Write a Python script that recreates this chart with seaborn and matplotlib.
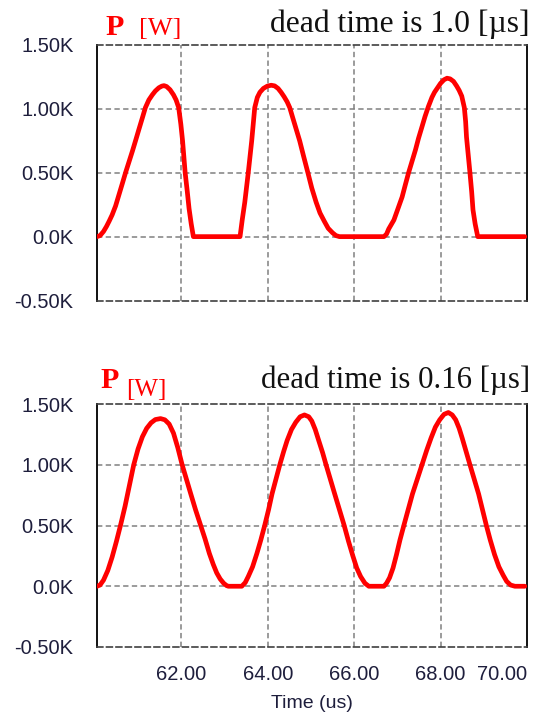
import matplotlib
matplotlib.use("Agg")
import matplotlib.pyplot as plt
import seaborn as sns
import pandas as pd

# ---------------- data ----------------
top_t = [60.05, 60.12, 60.20, 60.27, 60.33, 60.40, 60.48, 60.56, 60.64, 60.71, 60.79, 60.87,
         60.95, 61.02, 61.10, 61.17, 61.25, 61.33, 61.40, 61.48, 61.55, 61.60, 61.66, 61.74,
         61.82, 61.88, 61.94, 61.99, 62.03, 62.09, 62.14, 62.18, 62.23, 62.28,
         63.36, 63.41, 63.47, 63.55, 63.63, 63.70, 63.76, 63.82, 63.90, 63.99, 64.08, 64.16,
         64.24, 64.31, 64.38, 64.45, 64.51, 64.58, 64.66, 64.74, 64.83, 64.93, 65.02, 65.12,
         65.21, 65.31, 65.40, 65.50, 65.58, 65.66,
         66.69, 66.75, 66.80, 66.86, 66.92, 67.01, 67.11, 67.18, 67.26, 67.34, 67.42, 67.49,
         67.57, 67.64, 67.72, 67.80, 67.86, 67.92, 68.00, 68.08, 68.15, 68.22, 68.30, 68.37,
         68.43, 68.49, 68.55, 68.58, 68.60, 68.64, 68.68, 68.72, 68.75, 68.80, 68.86, 69.95]
top_p = [0, 8, 40, 80, 120, 170, 240, 330, 420, 500, 585, 670,
         760, 840, 930, 1010, 1070, 1110, 1140, 1165, 1178, 1182, 1175, 1150,
         1110, 1070, 1010, 880, 750, 500, 350, 220, 100, 0,
         0, 130, 270, 500, 750, 1010, 1090, 1130, 1160, 1178, 1185, 1180,
         1160, 1130, 1095, 1055, 1010, 930, 840, 750, 630, 500, 380, 270,
         185, 120, 65, 30, 8, 0,
         0, 20, 60, 95, 130, 215, 310, 400, 500, 590, 680, 770,
         860, 940, 1020, 1090, 1130, 1160, 1200, 1228, 1240, 1235, 1215, 1180,
         1145, 1100, 1010, 900, 780, 640, 500, 350, 210, 100, 0, 0]

bot_t = [60.05, 60.12, 60.20, 60.30, 60.40, 60.50, 60.60, 60.70, 60.80, 60.90, 61.00, 61.10,
         61.20, 61.30, 61.40, 61.52, 61.62, 61.72, 61.82, 61.92, 62.02, 62.12, 62.22, 62.33,
         62.44, 62.55, 62.65, 62.74, 62.82, 62.90, 62.98, 63.05, 63.09,
         63.40, 63.48, 63.55, 63.65, 63.75, 63.84, 63.93, 64.02, 64.10, 64.19, 64.28, 64.37,
         64.45, 64.55, 64.65, 64.75, 64.85, 64.95, 65.02, 65.10, 65.18, 65.27, 65.35, 65.45,
         65.55, 65.66, 65.77, 65.87, 65.97, 66.06, 66.15, 66.25, 66.34,
         66.69, 66.75, 66.82, 66.90, 66.98, 67.06, 67.15, 67.25, 67.35, 67.46, 67.57, 67.68,
         67.78, 67.88, 67.98, 68.08, 68.18, 68.27, 68.35, 68.43, 68.50, 68.59, 68.68, 68.78,
         68.88, 68.97, 69.06, 69.15, 69.25, 69.35, 69.45, 69.53, 69.62, 69.72, 69.95]
bot_p = [0, 10, 50, 130, 240, 370, 510, 660, 830, 1000, 1130, 1230,
         1300, 1345, 1372, 1380, 1370, 1335, 1260, 1140, 1000, 880, 760, 630,
         510, 390, 270, 180, 110, 60, 25, 5, 0,
         0, 30, 80, 160, 270, 380, 500, 630, 760, 880, 1000, 1110,
         1200, 1290, 1350, 1395, 1410, 1395, 1360, 1290, 1200, 1100, 1000, 880,
         760, 630, 500, 370, 250, 150, 80, 25, 0,
         0, 25, 70, 150, 260, 380, 500, 630, 760, 880, 1000, 1120,
         1220, 1310, 1370, 1415, 1430, 1410, 1370, 1300, 1220, 1110, 1000, 880,
         760, 630, 500, 380, 260, 160, 90, 40, 10, 0, 0]

y_ticks = [-500, 0, 500, 1000, 1500]
y_labels = ["-0.50K", "0.0K", "0.50K", "1.00K", "1.50K"]
x_ticks = [62, 64, 66, 68, 70]
x_labels = ["62.00", "64.00", "66.00", "68.00", "70.00"]
titles = ["dead time is 1.0 [µs]", "dead time is 0.16 [µs]"]

# ---------------- style ----------------
sns.set_style("white")
plt.rcParams["font.family"] = ["Liberation Sans", "DejaVu Sans"]

fig = plt.figure(figsize=(5.38, 7.15), dpi=100)
W, H = 538.0, 715.0
ax_top = fig.add_axes([97 / W, 1 - 300.5 / H, 430 / W, 255.5 / H])
ax_bot = fig.add_axes([97 / W, 1 - 647 / H, 430 / W, 243 / H])

tick_color = "#1e1e3c"
grid_kw = dict(color="#808080", lw=1.1, linestyle=(0, (3.5, 2.2)))

for ax, t, p in [(ax_top, top_t, top_p), (ax_bot, bot_t, bot_p)]:
    df = pd.DataFrame({"t": t, "p": p})
    sns.lineplot(data=df, x="t", y="p", ax=ax, color="#ff0000", lw=3.4,
                 solid_joinstyle="round", solid_capstyle="round", zorder=3)
    ax.set_xlim(60.05, 70.0)
    ax.set_ylim(-500, 1500)
    ax.set_yticks(y_ticks)
    ax.set_yticklabels(y_labels, fontsize=14.5, color=tick_color)
    ax.set_xticks(x_ticks)
    for yv in [0, 500, 1000]:
        ax.axhline(yv, **grid_kw, zorder=1)
    for xv in [62, 64, 66, 68]:
        ax.axvline(xv, **grid_kw, zorder=1)
    ax.tick_params(axis="both", length=0)
    ax.tick_params(axis="y", pad=17)
    for s in ["left", "right"]:
        ax.spines[s].set_color("#111111")
        ax.spines[s].set_linewidth(1.4)
    for s in ["top", "bottom"]:
        ax.spines[s].set_color("#404040")
        ax.spines[s].set_linewidth(1.2)
        ax.spines[s].set_linestyle((0, (3.5, 2.2)))
    ax.set_ylabel("")
    ax.set_xlabel("")

ax_top.set_xticklabels([])
ax_bot.set_xticklabels(x_labels, fontsize=14.5, color=tick_color)
ax_bot.tick_params(axis="x", pad=13)
ax_bot.get_xticklabels()[-1].set_ha("right")
ax_bot.set_xlabel("Time (us)", fontsize=14, color=tick_color, labelpad=8)

serif = ["Liberation Serif", "DejaVu Serif"]
# top titles
fig.text(105 / W, 1 - 35 / H, "P", color="#ff0000", fontsize=21.5, fontweight="bold",
         family=serif, va="baseline", ha="left")
fig.text(139 / W, 1 - 35 / H, "[W]", color="#ff0000", fontsize=19,
         family=serif, va="baseline", ha="left")
fig.text(530 / W, 1 - 32 / H, titles[0], color="#111111", fontsize=22.8,
         family=serif, va="baseline", ha="right")
# bottom titles
fig.text(100 / W, 1 - 388 / H, "P", color="#ff0000", fontsize=21.5, fontweight="bold",
         family=serif, va="baseline", ha="left")
fig.text(126 / W, 1 - 396 / H, "[W]", color="#ff0000", fontsize=18,
         family=serif, va="baseline", ha="left")
fig.text(530 / W, 1 - 388 / H, titles[1], color="#111111", fontsize=22.2,
         family=serif, va="baseline", ha="right")

fig.savefig("out.png", dpi=100)
